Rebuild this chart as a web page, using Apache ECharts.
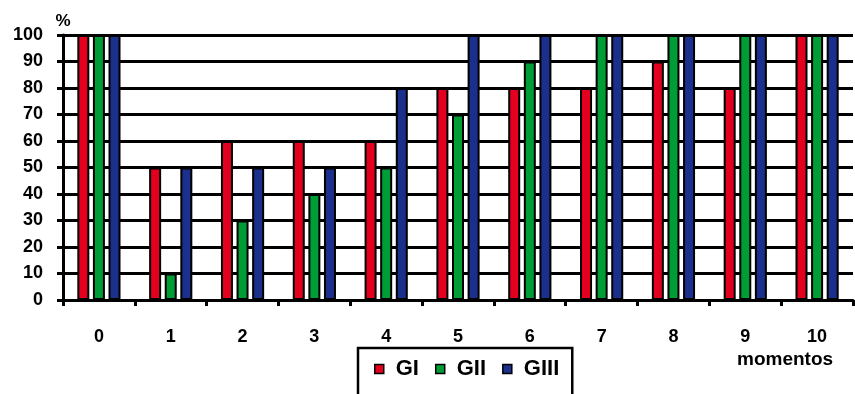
<!DOCTYPE html>
<html>
<head>
<meta charset="utf-8">
<script src="https://cdn.jsdelivr.net/npm/echarts@6/dist/echarts.min.js"></script>
<style>
  html, body { margin: 0; padding: 0; background: #fff; }
  #chart { width: 855px; height: 394px; }
</style>
</head>
<body>
<div id="chart"></div>
<script>
// Moments on the horizontal axis
const momentos = ['0', '1', '2', '3', '4', '5', '6', '7', '8', '9', '10'];
// Percentage per group at each moment
const gI   = [100, 50, 60, 60, 60, 80, 80, 80, 90, 80, 100];
const gII  = [100, 10, 30, 40, 50, 70, 90, 100, 100, 100, 100];
const gIII = [100, 50, 50, 50, 80, 100, 100, 100, 100, 100, 100];
// Vertical axis ticks
const yTicks = [0, 10, 20, 30, 40, 50, 60, 70, 80, 90, 100];

const font = 'Liberation Sans, Arial, sans-serif';
const colors = { GI: '#e3001f', GII: '#009d36', GIII: '#1b2f8c' };

function barSeries(name, data) {
  return {
    name: name,
    type: 'bar',
    data: data,
    barWidth: 12,
    barGap: '30%',
    itemStyle: { color: colors[name], borderColor: '#000', borderWidth: 2 }
  };
}

const chart = echarts.init(document.getElementById('chart'), null, { renderer: 'canvas' });
chart.setOption({
  animation: false,
  backgroundColor: '#fff',
  grid: { left: 63, right: 2, top: 35, bottom: 94 },
  legend: {
    left: 358,
    top: 348,
    padding: [10, 13, 30, 16],
    borderColor: '#000',
    borderWidth: 2.5,
    itemWidth: 9,
    itemHeight: 9,
    itemGap: 16,
    icon: 'rect',
    itemStyle: { borderColor: '#000', borderWidth: 1.5 },
    textStyle: { fontFamily: font, fontWeight: 'bold', fontSize: 22, color: '#000', padding: [12, 0, 0, 7] },
    data: ['GI', 'GII', 'GIII']
  },
  xAxis: {
    type: 'category',
    data: momentos,
    axisLine: { lineStyle: { color: '#000', width: 3 } },
    axisTick: { show: true, length: 6, lineStyle: { color: '#000', width: 3 } },
    axisLabel: { margin: 28, fontFamily: font, fontWeight: 'bold', fontSize: 18, color: '#000' }
  },
  yAxis: {
    type: 'value',
    min: yTicks[0],
    max: yTicks[yTicks.length - 1],
    interval: 10,
    name: '%',
    nameLocation: 'end',
    nameGap: 5,
    nameTextStyle: { fontFamily: font, fontWeight: 'bold', fontSize: 17, color: '#000', align: 'center' },
    axisLine: { show: true, lineStyle: { color: '#000', width: 3 } },
    axisTick: { show: true, length: 6, lineStyle: { color: '#000', width: 3 } },
    axisLabel: { margin: 20, fontFamily: font, fontWeight: 'bold', fontSize: 18, color: '#000' },
    splitLine: { show: true, lineStyle: { color: '#000', width: 3 } }
  },
  graphic: [{
    type: 'text',
    left: 737,
    top: 350,
    style: { text: 'momentos', font: 'bold 19px ' + font, fill: '#000' }
  }],
  series: [
    barSeries('GI', gI),
    barSeries('GII', gII),
    barSeries('GIII', gIII)
  ]
});
</script>
</body>
</html>
